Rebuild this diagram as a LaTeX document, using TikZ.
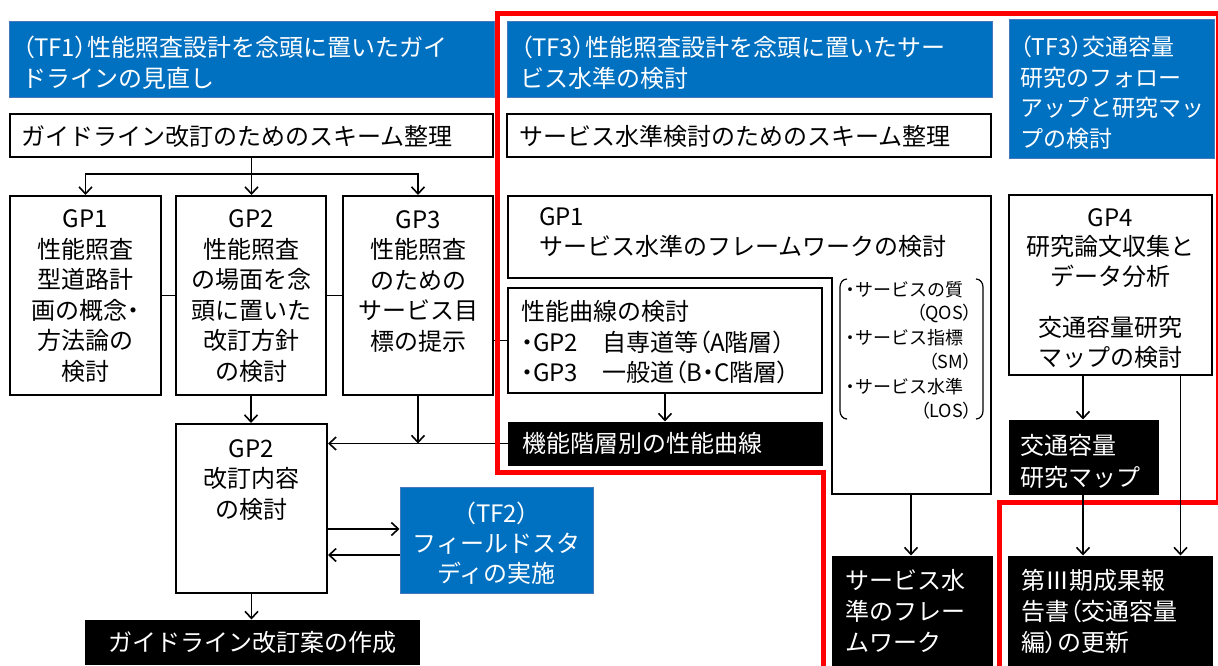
\documentclass[tikz,border=0pt]{standalone}
\usepackage{fontspec}
\setmainfont{Noto Sans CJK JP}
\newfontfamily\jpp{Noto Sans CJK JP}[RawFeature=+palt]
\usetikzlibrary{arrows.meta,calc}
\definecolor{tfblue}{RGB}{0,112,192}
\definecolor{tfedge}{RGB}{70,120,190}
\definecolor{frame}{RGB}{255,0,0}
\newcommand\jlp{{\jpp （}}
\newcommand\jrp{{\jpp ）}}
\newcommand\jdot{{\jpp ・}}
\tikzset{
 wbox/.style={draw=black, line width=2pt, fill=white, inner sep=0pt},
 bbox/.style={draw=black, fill=black, line width=1pt, inner sep=0pt},
 hbox/.style={draw=tfedge, fill=tfblue, line width=1pt, inner sep=0pt},
 txt/.style={inner sep=0pt, font=\fontsize{24}{30.5}\selectfont},
 wtxt/.style={txt, text=white},
 smtxt/.style={inner sep=0pt, font=\fontsize{18}{24}\selectfont},
 conn/.style={line width=1.6pt, draw=black},
 arr/.style={conn, -{Straight Barb[length=7pt,width=13pt,line width=1.6pt]}},
 redframe/.style={draw=frame, line width=5pt},
 brk/.style={draw=black, line width=1.2pt},
}
\begin{document}
\begin{tikzpicture}[x=1pt,y=-1pt]
\clip (0,0) rectangle (1218,666);
\fill[white] (0,0) rectangle (1218,666);

% ---------- headers ----------
\node[hbox, minimum width=485pt, minimum height=76pt] (tf1h) at (251.5,60) {};
\node[wtxt, anchor=west, align=left] (tf1t) at (22,62.5) {\jlp TF1\jrp 性能照査設計を念頭に置いたガイ\\ドラインの見直し};
\node[hbox, minimum width=485pt, minimum height=76pt] (tf3h) at (749.5,60) {};
\node[wtxt, anchor=west, align=left] (tf3t) at (520,62.5) {\jlp TF3\jrp 性能照査設計を念頭に置いたサー\\ビス水準の検討};
\node[hbox, minimum width=205pt, minimum height=139pt] (tf3h2) at (1111.5,89.5) {};
\node[wtxt, anchor=west, align=left, font=\fontsize{23}{30.5}\selectfont] (tf3t2) at (1020,92.5) {\jlp TF3\jrp 交通容量\\研究のフォロー\\アップと研究マッ\\プの検討};

% ---------- scheme boxes ----------
\node[wbox, minimum width=483pt, minimum height=43pt] (sch1) at (251.5,135.5) {};
\node[txt, anchor=west] (sch1t) at (21,136) {ガイドライン改訂のためのスキーム整理};
\node[wbox, minimum width=484pt, minimum height=43pt] (sch2) at (749,135.5) {};
\node[txt, anchor=west] (sch2t) at (519,136) {サービス水準検討のためのスキーム整理};

% ---------- TF1 GP boxes ----------
\node[wbox, minimum width=151pt, minimum height=199pt] (gp1) at (85.5,295.5) {};
\node[txt, align=center] (gp1t) at (85.5,296) {GP1\\性能照査\\型道路計\\画の概念\jdot\\方法論の\\検討};
\node[wbox, minimum width=150pt, minimum height=199pt] (gp2) at (251,295.5) {};
\node[txt, align=center] (gp2t) at (251,296) {GP2\\性能照査\\の場面を念\\頭に置いた\\改訂方針\\の検討};
\node[wbox, minimum width=150pt, minimum height=199pt] (gp3) at (418,295.5) {};
\node[txt, align=center] (gp3t) at (418,281.5) {GP3\\性能照査\\のための\\サービス目\\標の提示};

\node[wbox, minimum width=151pt, minimum height=169pt] (gp2b) at (251.5,508.5) {};
\node[txt, align=center] (gp2bt) at (251.5,480) {GP2\\改訂内容\\の検討};
\node[hbox, minimum width=193pt, minimum height=106pt] (tf2) at (496.5,540) {};
\node[wtxt, align=center, font=\fontsize{24}{30}\selectfont] (tf2t) at (496.5,543) {\jlp TF2\jrp\\フィールドスタ\\ディの実施};
\node[bbox, minimum width=334pt, minimum height=44pt] (guide) at (252,642) {};
\node[wtxt] (guidet) at (252,642) {ガイドライン改訂案の作成};

% ---------- TF3 GP1 (L-shaped) ----------
\draw[line width=2pt, fill=white] (508,196) -- (991,196) -- (991,494) -- (832,494) -- (832,278) -- (508,278) -- cycle;
\coordinate (fwb) at (911,494);
\node[txt, anchor=west, align=left, font=\fontsize{24}{30}\selectfont] (fwt) at (539,233) {GP1\\サービス水準のフレームワークの検討};

\node[wbox, minimum width=314pt, minimum height=105pt] (curve) at (665,340.5) {};
\node[txt, anchor=west, align=left] (curvet) at (521,342.5) {性能曲線の検討\\\jdot GP2　自専道等\jlp A階層\jrp\\\jdot GP3　一般道\jlp B\jdot C階層\jrp};
\node[bbox, minimum width=314pt, minimum height=43pt] (kino) at (665,443.5) {};
\node[wtxt, anchor=west] (kinot) at (522,443.5) {機能階層別の性能曲線};

% bracket group
\draw[brk] (847,279) to[out=180,in=90] (840,287) -- (840,411) to[out=-90,in=180] (847,419);
\draw[brk] (976,279) to[out=0,in=90] (983,287) -- (983,411) to[out=-90,in=0] (976,419);
\node[smtxt, anchor=west] (b1) at (846,290) {\jdot サービスの質};
\node[smtxt, anchor=east] (b2) at (972,313) {\jlp QOS\jrp};
\node[smtxt, anchor=west] (b3) at (846,338) {\jdot サービス指標};
\node[smtxt, anchor=east] (b4) at (972,362) {\jlp SM\jrp};
\node[smtxt, anchor=west] (b5) at (846,387) {\jdot サービス水準};
\node[smtxt, anchor=east] (b6) at (972,411) {\jlp LOS\jrp};

\node[bbox, minimum width=160pt, minimum height=124pt] (svc) at (912,618) {};
\node[wtxt, anchor=west, align=left, font=\fontsize{24}{31}\selectfont] (svct) at (845,611) {サービス水\\準のフレー\\ムワーク};

% ---------- GP4 ----------
\node[wbox, minimum width=203pt, minimum height=180pt] (gp4) at (1110.5,285) {};
\node[txt, align=center, font=\fontsize{24}{29.5}\selectfont] (gp4a) at (1110.5,248) {GP4\\研究論文収集と\\データ分析};
\node[txt, align=center, font=\fontsize{24}{29.5}\selectfont] (gp4b) at (1110.5,342.5) {交通容量研究\\マップの検討};
\node[bbox, minimum width=149pt, minimum height=74pt] (map) at (1083.5,457) {};
\node[wtxt, anchor=west, align=left, font=\fontsize{24}{32}\selectfont] (mapt) at (1020,461) {交通容量\\研究マップ};
\node[bbox, minimum width=204pt, minimum height=124pt] (rep) at (1110,618) {};
\node[wtxt, anchor=west, align=left, font=\fontsize{24}{31}\selectfont] (rept) at (1021,612) {第Ⅲ期成果報\\告書\jlp 交通容量\\編\jrp の更新};

% ---------- connectors (left) ----------
\draw[conn] (sch1.south) -- ++(0,16) coordinate (split);
\draw[arr] (split) -| (gp1.north);
\draw[arr] (split) -- (split |- gp2.north);
\draw[arr] (split) -| (gp3.north);
\draw[conn] (gp1.east) -- (gp2.west);
\draw[conn] (gp2.east) -- (gp3.west);
\draw[conn] (gp3.east |- curve.west) -- (curve.west);
\draw[arr] (gp2.south) -- (gp2.south |- gp2b.north);
\draw[arr] (gp3.south) -- (gp3.south |- kino.west);
\draw[arr] (kino.west) -- (kino.west -| gp2b.east);
\draw[arr] ([yshift=11pt]tf2.west -| gp2b.east) -- ([yshift=11pt]tf2.west);
\draw[arr] ([yshift=-15pt]tf2.west) -- ([yshift=-15pt]tf2.west -| gp2b.east);
\draw[arr] (gp2b.south) -- (gp2b.south |- guide.north);
\draw[arr] (curve.south) -- (kino.north);
\draw[arr] (fwb) -- (fwb |- svc.north);

% ---------- red frame ----------
\draw[redframe] (823,672) -- (823,472) -- (497,472) -- (497,13.5) -- (1218,13.5) -- (1218,502) -- (999,502) -- (999,672);

% ---------- connectors (right) ----------
\draw[arr] ([xshift=-27.5pt]gp4.south) -- ([xshift=-27.5pt]gp4.south |- map.north);
\draw[arr] ([xshift=-0.5pt]map.south) -- ([xshift=-0.5pt]map.south |- rep.north);
\draw[arr] ([xshift=70pt]gp4.south) -- ([xshift=70pt]gp4.south |- rep.north);
\end{tikzpicture}
\end{document}
